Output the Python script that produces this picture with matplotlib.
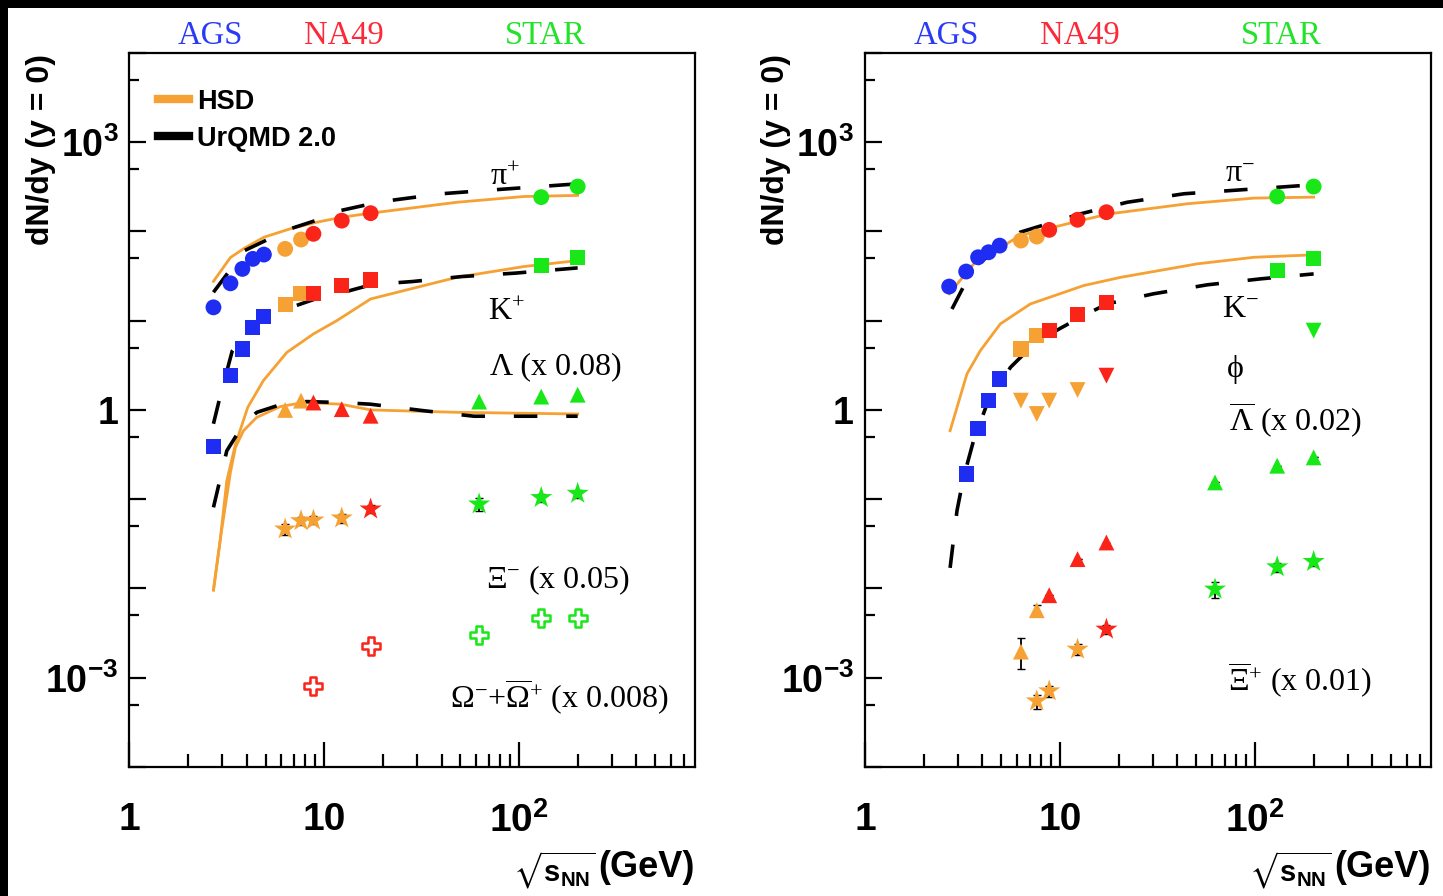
import matplotlib
matplotlib.use('Agg')
import matplotlib.pyplot as plt
from matplotlib.lines import Line2D
from matplotlib.patches import Rectangle
from matplotlib.ticker import FixedLocator, FixedFormatter, NullFormatter
import numpy as np

plt.rcParams['font.family'] = 'Liberation Sans'
plt.rcParams['mathtext.fontset'] = 'custom'
plt.rcParams['mathtext.rm'] = 'Liberation Serif'
plt.rcParams['mathtext.it'] = 'Liberation Serif:italic'
plt.rcParams['mathtext.bf'] = 'Liberation Sans:bold'
plt.rcParams['mathtext.fallback'] = 'stix'

#%% DATA
# source of each point: A = AGS, P = NA49 (preliminary, orange), N = NA49, S = STAR
pip_x = [2.7, 3.3, 3.8, 4.3, 4.9, 6.3, 7.6, 8.8, 12.3, 17.3, 130, 200]
pip_y = [14.1, 26.2, 38.0, 49.2, 55.0, 63.7, 81.1, 93.9, 132, 160, 242, 318]
pip_src = 'AAAAAPPNNNSS'

kp_x = [2.7, 3.3, 3.8, 4.3, 4.9, 6.3, 7.6, 8.8, 12.3, 17.3, 130, 200]
kp_y = [0.387, 2.42, 4.82, 8.36, 11.1, 15.1, 20.0, 20.3, 24.7, 28.6, 41.4, 51.3]
kp_src = 'AAAAAPPNNNSS'

lam_x = [6.3, 7.6, 8.8, 12.3, 17.3, 62.4, 130, 200]
lam_y = [1.0, 1.27, 1.21, 1.02, 0.86, 1.24, 1.41, 1.48]
lam_src = 'PPNNNSSS'

xi_x = [6.3, 7.6, 8.8, 12.3, 17.3, 62.4, 130, 200]
xi_y = [0.0462, 0.0572, 0.0582, 0.0614, 0.0774, 0.0881, 0.104, 0.116]
xi_err = [0.006, 0.006, 0.006, 0.007, 0.008, 0.014, 0.011, 0.012]
xi_src = 'PPPPNSSS'

om_x = [8.8, 17.3, 62.4, 130, 200]
om_y = [8.07e-4, 2.27e-3, 3.01e-3, 4.71e-3, 4.71e-3]
om_err = [1.2e-4, 3e-4, 4e-4, 6e-4, 4e-4]
om_src = 'NNSSS'

pim_x = [2.7, 3.3, 3.8, 4.3, 4.9, 6.3, 7.6, 8.8, 12.3, 17.3, 130, 200]
pim_y = [24.1, 35.5, 51.3, 58.4, 69.3, 79.0, 87.5, 104, 135, 164, 246, 318]
pim_src = 'AAAAAPPNNNSS'

km_x = [3.3, 3.8, 4.3, 4.9, 6.3, 7.6, 8.8, 12.3, 17.3, 130, 200]
km_y = [0.191, 0.62, 1.27, 2.22, 4.82, 6.79, 7.73, 11.7, 16.1, 36.4, 49.2]
km_src = 'AAAAPPNNNSS'

phi_x = [6.3, 7.6, 8.8, 12.3, 17.3, 200]
phi_y = [1.27, 0.90, 1.27, 1.67, 2.42, 7.73]
phi_src = 'PPPPNS'

alam_x = [6.3, 7.6, 8.8, 12.3, 17.3, 62.4, 130, 200]
alam_y = [0.00196, 0.0057, 0.0084, 0.0213, 0.0327, 0.154, 0.237, 0.294]
alam_err_lo = [0.00072, 0.0008, 0, 0, 0, 0, 0, 0]
alam_err_hi = [0.00085, 0.0008, 0, 0, 0, 0, 0, 0]
alam_src = 'PPNNNSSS'

axi_x = [7.6, 8.8, 12.3, 17.3, 62.4, 130, 200]
axi_y = [5.48e-4, 7.1e-4, 2.08e-3, 3.49e-3, 9.8e-3, 0.0174, 0.020]
axi_err = [1.0e-4, 1.0e-4, 3e-4, 4e-4, 2.0e-3, 2.0e-3, 2.0e-3]
axi_src = 'PPPNSSS'

# model curves
hsd_pip_x = [2.7, 3.3, 3.9, 4.9, 6.7, 9.2, 12.3, 17.3, 48, 106, 200]
hsd_pip_y = [27.6, 51, 65, 86, 107, 127, 144, 160, 212, 246, 253]
urq_pip_x = [2.7, 3.9, 5.0, 6.7, 9.0, 12.1, 15.9, 21.8, 40, 74, 200]
urq_pip_y = [20.8, 61, 79, 107, 132, 171, 195, 222, 264, 292, 341]

hsd_kp_x = [2.7, 2.92, 3.16, 3.5, 4.05, 4.87, 6.42, 8.8, 11.6, 17.3, 48, 106, 200]
hsd_kp_y = [0.0096, 0.034, 0.16, 0.41, 1.07, 2.13, 4.4, 7.1, 10, 17.5, 30.6, 40.4, 47.1]
urq_kp_x = [2.7, 2.92, 3.37, 4.24, 5.27, 7.2, 9.55, 13.1, 17.6, 28.2, 51, 96, 200]
urq_kp_y = [0.7, 1.41, 4.57, 8.8, 12.0, 14.8, 18.3, 21.3, 25.4, 27.4, 31.2, 34.1, 39]

hsd_lam_x = [2.7, 2.95, 3.3, 3.5, 3.85, 4.5, 5.95, 7.8, 12.1, 17.3, 48, 200]
hsd_lam_y = [0.0096, 0.04, 0.2, 0.38, 0.585, 0.824, 1.09, 1.21, 1.16, 1.0, 0.94, 0.90]
urq_lam_x = [2.7, 3.16, 3.85, 4.51, 5.7, 8.1, 12.1, 17.2, 32.4, 58.7, 200]
urq_lam_y = [0.081, 0.348, 0.695, 0.94, 1.11, 1.24, 1.21, 1.16, 0.98, 0.85, 0.85]

hsd_pim_x = [2.7, 3.6, 6.25, 12.7, 17.8, 45, 99, 200]
hsd_pim_y = [20, 43, 90, 132, 157, 204, 236, 242]
urq_pim_x = [2.79, 3.6, 6.25, 12.7, 22.1, 43.3, 84.6, 200]
urq_pim_y = [13.5, 39.6, 98, 157, 212, 264, 292, 333]

hsd_km_x = [2.73, 3.33, 3.9, 4.94, 7.05, 13.2, 20.5, 50.6, 99, 200]
hsd_km_y = [0.585, 2.53, 4.61, 9.2, 15.4, 24.7, 30.6, 43.3, 51.3, 54.6]
urq_km_x = [2.73, 2.96, 3.2, 3.6, 4.22, 5.57, 7.07, 8.9, 12.7, 17.4, 30.2, 56.9, 107, 200]
urq_km_y = [0.017, 0.074, 0.175, 0.452, 1.16, 3.0, 5.02, 7.1, 10.9, 15.4, 20, 25.2, 29.4, 33.4]

#%% STYLE
colors = {'A': '#1f2cf2', 'P': '#f5a133', 'N': '#fb2418', 'S': '#18e818'}
hsd_color = '#f5a133'
top_labels = ['AGS', 'NA49', 'STAR']
top_colors = ['#2a3af5', '#fb2a3a', '#22e22a']


def plot_points(ax, x, y, src, marker, size, hollow=False):
    cols = [colors[s] for s in src]
    if hollow:
        ax.scatter(x, y, s=size, marker=marker, facecolors='white',
                   edgecolors=cols, linewidths=1.8, zorder=4)
    else:
        ax.scatter(x, y, s=size, marker=marker, c=cols,
                   edgecolors='none', zorder=4)


def hsd(ax, x, y):
    ax.plot(x, y, color=hsd_color, lw=2.0, zorder=2)


def urqmd(ax, x, y):
    ax.plot(x, y, color='black', lw=2.6, dashes=(6.5, 8), zorder=2)


def style_axes(ax):
    ax.set_xscale('log')
    ax.set_yscale('log')
    ax.set_xlim(1, 800)
    ax.set_ylim(1e-4, 1e4)
    ax.xaxis.set_major_locator(FixedLocator([1, 10, 100]))
    ax.xaxis.set_major_formatter(FixedFormatter(['1', '10', r'$\mathbf{10^{2}}$']))
    ax.xaxis.set_minor_locator(FixedLocator([k * 10.0**d for d in (0, 1, 2)
                                             for k in range(2, 10) if k * 10**d < 800]))
    ax.xaxis.set_minor_formatter(NullFormatter())
    ydec = 10.0 ** np.arange(-4, 5)
    ylab = ['', r'$\mathbf{10^{-3}}$', '', '', '1', '', '', r'$\mathbf{10^{3}}$', '']
    ax.yaxis.set_major_locator(FixedLocator(ydec))
    ax.yaxis.set_major_formatter(FixedFormatter(ylab))
    ax.yaxis.set_minor_locator(FixedLocator(5 * 10.0 ** np.arange(-4, 4)))
    ax.yaxis.set_minor_formatter(NullFormatter())
    ax.tick_params(axis='both', which='both', direction='in', top=False, right=False,
                   width=1.6)
    ax.tick_params(axis='x', which='major', length=18, pad=25, labelsize=28)
    ax.tick_params(axis='x', which='minor', length=9.5)
    ax.tick_params(axis='y', which='major', length=12.5, pad=8, labelsize=27)
    ax.tick_params(axis='y', which='minor', length=7)
    for lab in ax.get_xticklabels() + ax.get_yticklabels():
        lab.set_fontweight('bold')
    for sp in ax.spines.values():
        sp.set_linewidth(1.6)
    for xf, lab, col in zip([0.143, 0.38, 0.736], top_labels, top_colors):
        ax.text(xf, 1.024, lab, transform=ax.transAxes, ha='center', va='center',
                color=col, fontsize=23.5, family='Liberation Serif')
    ax.text(-0.157, 0.998, 'dN/dy (y = 0)', transform=ax.transAxes, rotation=90,
            ha='center', va='top', fontsize=23, weight='bold')
    ax.text(1.0, -0.141, '(GeV)', transform=ax.transAxes,
            ha='right', va='center', fontsize=26, weight='bold')
    ax.text(0.825, -0.145, r'$\sqrt{\mathbf{s}_{\mathbf{NN}}}$', transform=ax.transAxes,
            ha='right', va='center', fontsize=21)


def label(ax, xf, yf, txt):
    ax.text(xf, yf, txt, transform=ax.transAxes, ha='center', va='center',
            fontsize=23, family='Liberation Serif')


#%% FIGURE
fig = plt.figure(figsize=(14.43, 8.96), dpi=100, facecolor='black')
fig.add_artist(Rectangle((8 / 1443, 0), 1, 1 - 8 / 896, transform=fig.transFigure,
                         facecolor='white', edgecolor='none', zorder=-10))

ax1 = fig.add_axes([0.0897, 0.144, 0.3919, 0.797])
ax2 = fig.add_axes([0.5995, 0.144, 0.3922, 0.797])
for ax in (ax1, ax2):
    style_axes(ax)

# left panel: positive pions, kaons, lambda, xi, omega
hsd(ax1, hsd_pip_x, hsd_pip_y)
urqmd(ax1, urq_pip_x, urq_pip_y)
hsd(ax1, hsd_kp_x, hsd_kp_y)
urqmd(ax1, urq_kp_x, urq_kp_y)
hsd(ax1, hsd_lam_x, hsd_lam_y)
urqmd(ax1, urq_lam_x, urq_lam_y)

plot_points(ax1, pip_x, pip_y, pip_src, 'o', 130)
plot_points(ax1, kp_x, kp_y, kp_src, 's', 120)
plot_points(ax1, lam_x, lam_y, lam_src, '^', 130)
ax1.errorbar(xi_x, xi_y, yerr=xi_err, fmt='none', ecolor='black', elinewidth=1.3,
             capsize=3, zorder=3)
plot_points(ax1, xi_x, xi_y, xi_src, '*', 280)
ax1.errorbar(om_x, om_y, yerr=om_err, fmt='none', ecolor='black', elinewidth=1.3,
             capsize=3, zorder=3)
plot_points(ax1, om_x, om_y, om_src, 'P', 170, hollow=True)

ax1.legend(handles=[Line2D([], [], color=hsd_color, lw=6),
                    Line2D([], [], color='black', lw=6)],
           labels=['HSD', 'UrQMD 2.0'], loc='upper left', bbox_to_anchor=(0.05, 0.95),
           frameon=False, handlelength=1.15, handletextpad=0.3, labelspacing=0.42,
           borderpad=0, borderaxespad=0,
           prop={'family': 'Liberation Sans', 'weight': 'bold', 'size': 19.5})

label(ax1, 0.664, 0.826, r'π$^{+}$')
label(ax1, 0.667, 0.636, r'K$^{+}$')
label(ax1, 0.754, 0.560, 'Λ (x 0.08)')
label(ax1, 0.758, 0.262, r'Ξ$^{-}$ (x 0.05)')
label(ax1, 0.761, 0.098, r'Ω$^{-}$+$\overline{\Omega}^{+}$ (x 0.008)')

# right panel: negative pions, kaons, phi, anti-lambda, anti-xi
hsd(ax2, hsd_pim_x, hsd_pim_y)
urqmd(ax2, urq_pim_x, urq_pim_y)
hsd(ax2, hsd_km_x, hsd_km_y)
urqmd(ax2, urq_km_x, urq_km_y)

plot_points(ax2, pim_x, pim_y, pim_src, 'o', 130)
plot_points(ax2, km_x, km_y, km_src, 's', 120)
plot_points(ax2, phi_x, phi_y, phi_src, 'v', 130)
ax2.errorbar(alam_x, alam_y, yerr=[alam_err_lo, alam_err_hi], fmt='none', ecolor='black',
             elinewidth=1.3, capsize=3, zorder=3)
plot_points(ax2, alam_x, alam_y, alam_src, '^', 130)
ax2.errorbar(axi_x, axi_y, yerr=axi_err, fmt='none', ecolor='black', elinewidth=1.3,
             capsize=3, zorder=3)
plot_points(ax2, axi_x, axi_y, axi_src, '*', 280)

label(ax2, 0.663, 0.829, r'π$^{-}$')
label(ax2, 0.663, 0.640, r'K$^{-}$')
label(ax2, 0.654, 0.556, 'ϕ')
label(ax2, 0.760, 0.486, r'$\overline{\Lambda}$ (x 0.02)')
label(ax2, 0.769, 0.122, r'$\overline{\Xi}^{+}$ (x 0.01)')

fig.savefig('out.png', dpi=100, facecolor=fig.get_facecolor())
